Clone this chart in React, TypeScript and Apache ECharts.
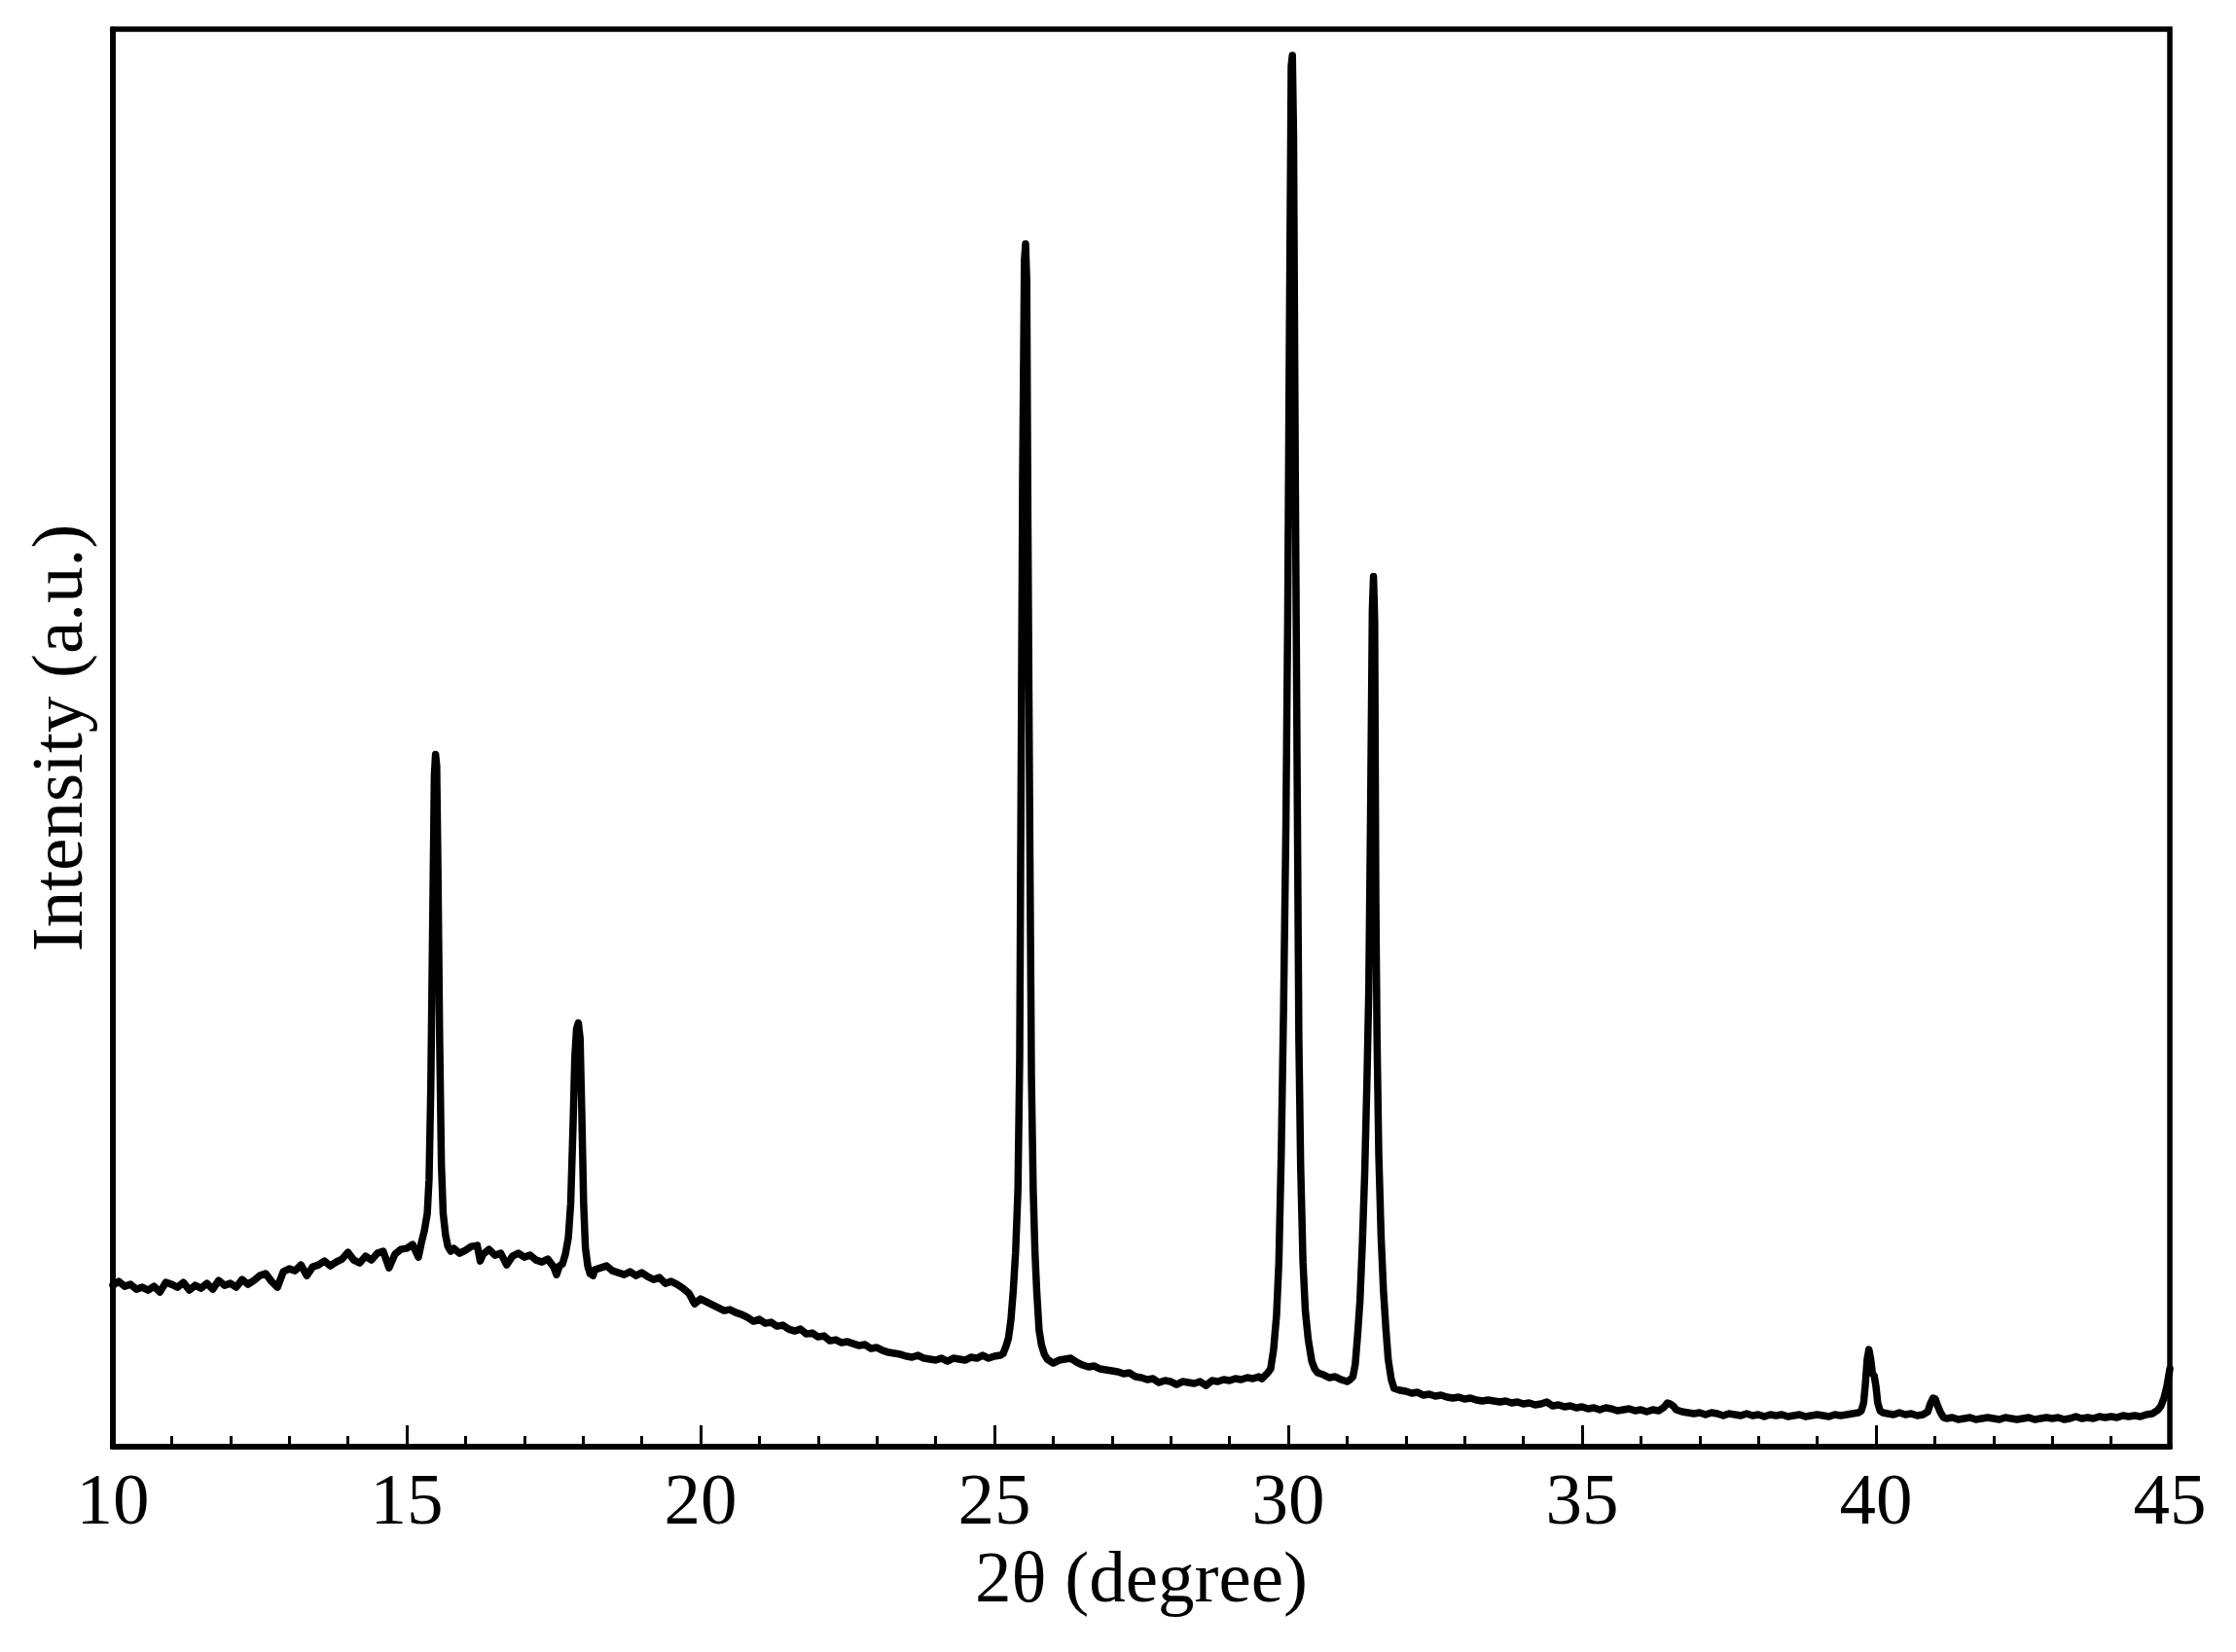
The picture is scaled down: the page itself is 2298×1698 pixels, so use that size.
import React, { useEffect, useRef } from 'react';
import * as echarts from 'echarts';

// XRD scan: [2θ in degrees, intensity in arbitrary units]
const scan10to20: [number, number][] = [
  [10.0, 166], [10.1, 170], [10.2, 165], [10.3, 167], [10.4, 162], [10.5, 164], [10.6, 161], [10.7, 165],
  [10.8, 159], [10.9, 169], [11.0, 167], [11.1, 164], [11.2, 169], [11.3, 161], [11.4, 166], [11.5, 163],
  [11.6, 168], [11.7, 162], [11.8, 171], [11.9, 166], [12.0, 168], [12.1, 164], [12.2, 172], [12.3, 167],
  [12.4, 171], [12.5, 176], [12.6, 178], [12.7, 170], [12.8, 164], [12.9, 180], [13.0, 183], [13.1, 181],
  [13.2, 187], [13.3, 176], [13.4, 185], [13.5, 187], [13.6, 191], [13.7, 186], [13.8, 190], [13.9, 193],
  [14.0, 200], [14.1, 192], [14.2, 189], [14.3, 196], [14.4, 192], [14.5, 199], [14.6, 201], [14.7, 184],
  [14.8, 198], [14.9, 203], [15.0, 204], [15.1, 208], [15.2, 195], [15.25, 210],
  [15.3, 222], [15.35, 240], [15.38, 275], [15.41, 370], [15.44, 530], [15.47, 690], [15.49, 712],
  [15.51, 700], [15.53, 600], [15.56, 420], [15.59, 290], [15.62, 240], [15.66, 218], [15.7, 206], [15.75, 201],
  [15.8, 204], [15.9, 199], [16.0, 202], [16.1, 206], [16.2, 207], [16.25, 191], [16.3, 198], [16.4, 203],
  [16.5, 197], [16.6, 199], [16.7, 187], [16.8, 196], [16.9, 199], [17.0, 195], [17.1, 197], [17.2, 192],
  [17.3, 190], [17.4, 193], [17.5, 185], [17.55, 177], [17.6, 186], [17.65, 188], [17.7, 198], [17.75, 215],
  [17.79, 250], [17.83, 330], [17.86, 400], [17.89, 430], [17.92, 436], [17.95, 420], [17.98, 340],
  [18.01, 250], [18.04, 205], [18.08, 186], [18.12, 178], [18.17, 176],
  [18.2, 182], [18.3, 184], [18.4, 186], [18.5, 181], [18.6, 179], [18.7, 177], [18.8, 180], [18.9, 176],
  [19.0, 179], [19.1, 175], [19.2, 172], [19.3, 174], [19.4, 168], [19.5, 170], [19.6, 167], [19.7, 163],
  [19.8, 158], [19.9, 147],
];

const scan20to30: [number, number][] = [
  [20.0, 152], [20.1, 149], [20.2, 146], [20.3, 143], [20.4, 140], [20.5, 141], [20.6, 138], [20.7, 136],
  [20.8, 133], [20.9, 129], [21.0, 131], [21.1, 127], [21.2, 128], [21.3, 124], [21.4, 125], [21.5, 121],
  [21.6, 119], [21.7, 121], [21.8, 116], [21.9, 117], [22.0, 113], [22.1, 114], [22.2, 109], [22.3, 110],
  [22.4, 107], [22.5, 108], [22.6, 106], [22.7, 104], [22.8, 105], [22.9, 101], [23.0, 102], [23.1, 99],
  [23.2, 97], [23.3, 96], [23.4, 95], [23.5, 93], [23.6, 92], [23.7, 94], [23.8, 91], [23.9, 90],
  [24.0, 89], [24.1, 91], [24.2, 88], [24.3, 91], [24.4, 90], [24.5, 89], [24.6, 92], [24.7, 91],
  [24.8, 94], [24.9, 91], [25.0, 93], [25.1, 94], [25.15, 96],
  [25.2, 104], [25.24, 112], [25.28, 130], [25.32, 160], [25.36, 200], [25.4, 264], [25.43, 400],
  [25.45, 646], [25.48, 1000], [25.51, 1220], [25.53, 1237], [25.55, 1200], [25.57, 950], [25.6, 646],
  [25.63, 380], [25.66, 264], [25.69, 200], [25.72, 160], [25.76, 120], [25.8, 105], [25.85, 95], [25.9, 90],
  [25.95, 88], [26.0, 86], [26.1, 89], [26.2, 90], [26.3, 91], [26.4, 87], [26.5, 84], [26.6, 82],
  [26.7, 83], [26.8, 80], [26.9, 79], [27.0, 78], [27.1, 77], [27.2, 75], [27.3, 76], [27.4, 72],
  [27.5, 71], [27.6, 69], [27.7, 70], [27.8, 66], [27.9, 68], [28.0, 67], [28.1, 64], [28.2, 67],
  [28.3, 66], [28.4, 65], [28.5, 67], [28.6, 63], [28.7, 68], [28.8, 67], [28.9, 69], [29.0, 68],
  [29.1, 70], [29.2, 69], [29.3, 71], [29.4, 70], [29.5, 72], [29.55, 70], [29.6, 73], [29.65, 76],
  [29.7, 80], [29.75, 100], [29.8, 135], [29.84, 190], [29.88, 300], [29.92, 450], [29.96, 640],
  [29.99, 850],
];

const scan30to45: [number, number][] = [
  [30.02, 1150], [30.05, 1420], [30.07, 1431], [30.09, 1350], [30.12, 1000], [30.15, 700], [30.18, 420],
  [30.21, 290], [30.25, 190], [30.29, 140], [30.34, 110], [30.4, 88], [30.45, 80], [30.5, 76],
  [30.6, 74], [30.7, 71], [30.8, 72], [30.9, 69], [31.0, 67], [31.05, 69], [31.1, 72],
  [31.14, 85], [31.18, 115], [31.22, 150], [31.26, 208], [31.3, 280], [31.34, 380], [31.37, 470],
  [31.4, 650], [31.43, 860], [31.45, 895], [31.47, 850], [31.49, 560], [31.51, 420], [31.54, 300],
  [31.58, 215], [31.62, 160], [31.66, 122], [31.7, 90], [31.75, 70], [31.8, 60],
  [31.9, 58], [32.0, 57], [32.1, 55], [32.2, 56], [32.3, 53], [32.4, 54], [32.5, 52], [32.6, 53],
  [32.7, 51], [32.8, 50], [32.9, 51], [33.0, 49], [33.1, 50], [33.2, 48], [33.3, 47], [33.4, 48],
  [33.5, 47], [33.6, 46], [33.7, 47], [33.8, 45], [33.9, 46], [34.0, 44], [34.1, 45], [34.2, 43],
  [34.3, 44], [34.4, 46], [34.5, 42], [34.6, 43], [34.7, 41], [34.8, 42], [34.9, 40], [35.0, 41],
  [35.1, 39], [35.2, 40], [35.3, 38], [35.4, 40], [35.5, 39], [35.6, 37], [35.7, 38], [35.8, 39],
  [35.9, 37], [36.0, 38], [36.1, 36], [36.2, 38], [36.3, 37], [36.4, 41], [36.45, 45], [36.5, 44],
  [36.55, 42], [36.6, 38], [36.7, 36], [36.8, 35], [36.9, 34], [37.0, 35], [37.1, 33], [37.2, 35],
  [37.3, 34], [37.4, 32], [37.5, 34], [37.6, 33], [37.7, 32], [37.8, 34], [37.9, 32], [38.0, 33],
  [38.1, 31], [38.2, 33], [38.3, 32], [38.4, 33], [38.5, 31], [38.6, 32], [38.7, 33], [38.8, 31],
  [38.9, 32], [39.0, 33], [39.1, 32], [39.2, 31], [39.3, 33], [39.4, 32], [39.5, 33], [39.6, 34],
  [39.7, 35], [39.75, 37],
  [39.79, 45], [39.82, 65], [39.85, 90], [39.88, 100], [39.91, 90], [39.94, 75], [39.97, 73], [40.0, 62],
  [40.03, 45], [40.07, 37], [40.12, 35],
  [40.2, 34], [40.3, 33], [40.4, 35], [40.5, 33], [40.6, 34], [40.7, 32], [40.8, 33], [40.88, 36],
  [40.93, 45], [40.97, 50], [41.01, 49], [41.05, 42], [41.1, 35], [41.15, 30], [41.2, 29], [41.3, 30],
  [41.4, 28], [41.5, 29], [41.6, 30], [41.7, 28], [41.8, 29], [41.9, 30], [42.0, 29], [42.1, 28],
  [42.2, 30], [42.3, 29], [42.4, 28], [42.5, 29], [42.6, 30], [42.7, 28], [42.8, 29], [42.9, 30],
  [43.0, 29], [43.1, 30], [43.2, 28], [43.3, 29], [43.4, 31], [43.5, 29], [43.6, 30], [43.7, 29],
  [43.8, 31], [43.9, 30], [44.0, 31], [44.1, 30], [44.2, 32], [44.3, 31], [44.4, 32], [44.5, 31],
  [44.6, 33], [44.7, 34], [44.8, 38], [44.85, 42], [44.9, 50], [44.95, 62], [45.0, 80],
];

const xRange = [10, 45];
const xStep = 5;
const yMax = 1458;

const FONT = '"Liberation Serif", "Times New Roman", serif';

export default function App() {
  const ref = useRef<HTMLDivElement>(null);

  useEffect(() => {
    if (!ref.current) return;
    const chart = echarts.init(ref.current, null, { renderer: 'svg' });
    const data = [...scan10to20, ...scan20to30, ...scan30to45];

    chart.setOption({
      animation: false,
      backgroundColor: '#fff',
      grid: {
        left: 116, right: 68, top: 30, bottom: 211,
        show: true, borderColor: '#000', borderWidth: 5.5,
      },
      xAxis: {
        type: 'value',
        min: xRange[0], max: xRange[1], interval: xStep,
        name: '2θ (degree)',
        nameLocation: 'middle',
        nameGap: 92,
        nameTextStyle: { fontFamily: FONT, fontSize: 75, color: '#000' },
        axisLine: { show: true, lineStyle: { color: '#000', width: 5.5 } },
        axisTick: { show: true, inside: true, length: 22, lineStyle: { color: '#000', width: 3 } },
        minorTick: { show: true, splitNumber: 5, length: 11, lineStyle: { color: '#000', width: 3 } },
        axisLabel: { fontFamily: FONT, fontSize: 75, color: '#000', margin: 16 },
        splitLine: { show: false },
      },
      yAxis: {
        type: 'value',
        min: 0, max: yMax,
        name: 'Intensity (a.u.)',
        nameLocation: 'middle',
        nameGap: 20,
        nameTextStyle: { fontFamily: FONT, fontSize: 75, color: '#000' },
        axisLine: { show: true, lineStyle: { color: '#000', width: 5.5 } },
        axisTick: { show: false },
        axisLabel: { show: false },
        splitLine: { show: false },
      },
      series: [
        {
          type: 'line',
          data,
          showSymbol: false,
          lineStyle: { color: '#000', width: 7.5, join: 'round', cap: 'round' },
        },
      ],
    });

    return () => chart.dispose();
  }, []);

  return (
    <div
      ref={ref}
      style={{ position: 'fixed', left: 0, top: 0, width: 2298, height: 1698, background: '#fff' }}
    />
  );
}
